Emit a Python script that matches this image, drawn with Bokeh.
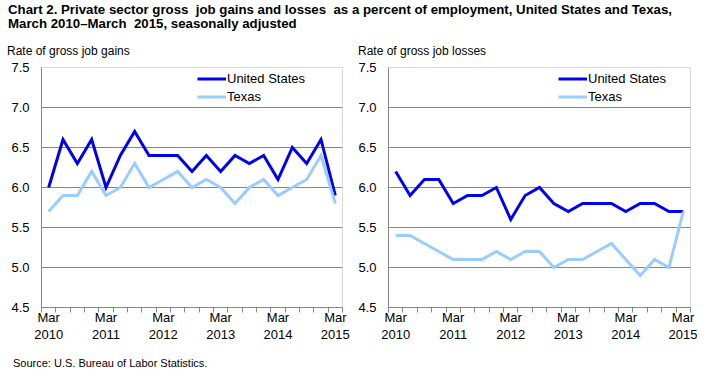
from bokeh.plotting import figure
from bokeh.models import FixedTicker, Legend, LegendItem, Div, Range1d
from bokeh.layouts import column, row
from bokeh.embed import file_html
from bokeh.resources import INLINE

quarters = list(range(21))
tick_labels = {0: "Mar\n2010", 4: "Mar\n2011", 8: "Mar\n2012", 12: "Mar\n2013", 16: "Mar\n2014", 20: "Mar\n2015"}

gains_us = [6.0, 6.6, 6.3, 6.6, 6.0, 6.4, 6.7, 6.4, 6.4, 6.4, 6.2, 6.4, 6.2, 6.4, 6.3, 6.4, 6.1, 6.5, 6.3, 6.6, 5.9]
gains_tx = [5.7, 5.9, 5.9, 6.2, 5.9, 6.0, 6.3, 6.0, 6.1, 6.2, 6.0, 6.1, 6.0, 5.8, 6.0, 6.1, 5.9, 6.0, 6.1, 6.4, 5.8]
losses_us = [6.2, 5.9, 6.1, 6.1, 5.8, 5.9, 5.9, 6.0, 5.6, 5.9, 6.0, 5.8, 5.7, 5.8, 5.8, 5.8, 5.7, 5.8, 5.8, 5.7, 5.7]
losses_tx = [5.4, 5.4, 5.3, 5.2, 5.1, 5.1, 5.1, 5.2, 5.1, 5.2, 5.2, 5.0, 5.1, 5.1, 5.2, 5.3, 5.1, 4.9, 5.1, 5.0, 5.7]

y_ticks = [4.5, 5.0, 5.5, 6.0, 6.5, 7.0, 7.5]

US_COLOR = "#0000F0"
TX_COLOR = "#99CCFF"
FONT = "Liberation Sans"


def panel(us, tx, left_border, width, legend_x):
    p = figure(width=width, height=288, output_backend="svg", toolbar_location=None,
               x_range=Range1d(-0.5, 20.5), y_range=Range1d(4.5, 7.5),
               min_border_left=left_border, min_border_right=width - left_border - 302,
               min_border_top=8, min_border_bottom=40)
    p.outline_line_color = "#D9D9D9"
    p.outline_line_width = 1
    p.background_fill_color = "white"
    p.border_fill_color = "white"
    p.xgrid.grid_line_color = None
    p.ygrid.ticker = FixedTicker(ticks=[5.0, 5.5, 6.0, 6.5, 7.0])
    p.ygrid.grid_line_color = "#868686"
    p.ygrid.grid_line_width = 1

    p.xaxis.ticker = FixedTicker(ticks=list(tick_labels.keys()),
                                 minor_ticks=[q - 0.5 for q in quarters] + [20.5])
    p.xaxis.major_label_overrides = tick_labels
    p.xaxis.major_tick_out = 0
    p.xaxis.major_tick_in = 0
    p.xaxis.minor_tick_out = 5
    p.xaxis.minor_tick_in = 0
    p.xaxis.minor_tick_line_color = "#868686"
    p.xaxis.axis_line_color = "#868686"
    p.xaxis.major_label_text_font = FONT
    p.xaxis.major_label_text_font_size = "13px"
    p.xaxis.major_label_text_color = "#000000"
    p.xaxis.major_label_standoff = -3
    p.xaxis.major_label_text_line_height = 1.15

    p.yaxis.ticker = FixedTicker(ticks=y_ticks)
    p.yaxis.major_label_overrides = {v: f"{v:.1f}" for v in y_ticks}
    p.yaxis.major_tick_out = 0
    p.yaxis.major_tick_in = 0
    p.yaxis.minor_tick_out = 0
    p.yaxis.minor_tick_in = 0
    p.yaxis.axis_line_color = "#868686"
    p.yaxis.major_label_text_font = FONT
    p.yaxis.major_label_text_font_size = "13px"
    p.yaxis.major_label_text_color = "#000000"
    p.yaxis.major_label_standoff = 12

    r_us = p.line(quarters, us, line_color=US_COLOR, line_width=3, line_join="miter")
    r_tx = p.line(quarters, tx, line_color=TX_COLOR, line_width=3, line_join="miter")

    leg = Legend(items=[LegendItem(label="United States", renderers=[r_us]),
                        LegendItem(label="Texas", renderers=[r_tx])],
                 location=(legend_x, 202), orientation="vertical",
                 glyph_width=29, glyph_height=17, label_height=17,
                 label_standoff=1, spacing=1, padding=0, margin=0,
                 border_line_color=None, background_fill_alpha=0,
                 label_text_font=FONT, label_text_font_size="13px",
                 label_text_color="#000000")
    p.add_layout(leg, "center")
    p.margin = (0, 0, 0, 0)
    return p


title = Div(text="Chart 2. Private sector gross&nbsp; job gains and losses&nbsp; as a percent of employment, United States and Texas,<br>March 2010&ndash;March&nbsp; 2015, seasonally adjusted",
            width=690, height=41, margin=(0, 0, 0, 0),
            styles={"font-family": FONT, "font-size": "13.25px",
                    "font-weight": "bold", "line-height": "14px", "color": "#000000",
                    "white-space": "nowrap"})

sub1 = Div(text="Rate of gross job gains", width=342, height=15, margin=(0, 0, 0, 0),
           styles={"font-family": FONT, "font-size": "12px", "line-height": "15px",
                   "color": "#000000", "white-space": "nowrap", "margin-left": "-1px"})
sub2 = Div(text="Rate of gross job losses", width=347, height=15, margin=(0, 0, 0, 0),
           styles={"font-family": FONT, "font-size": "12px", "line-height": "15px",
                   "color": "#000000", "white-space": "nowrap", "padding-left": "8px"})

p1 = panel(gains_us, gains_tx, 32, 342, 156)
p2 = panel(losses_us, losses_tx, 38, 347, 170)

source = Div(text="Source: U.S. Bureau of Labor Statistics.", width=690, height=25,
             margin=(0, 0, 0, 0),
             styles={"font-family": FONT, "font-size": "11px", "line-height": "12px",
                     "color": "#000000", "padding-top": "10px", "padding-left": "5px",
                     "white-space": "nowrap"})

layout = column(title,
                row(column(sub1, p1, spacing=0), column(sub2, p2, spacing=0), spacing=0),
                source, spacing=0, margin=(3, 0, 0, 8))

open("out.html", "w").write(file_html(layout, INLINE))
